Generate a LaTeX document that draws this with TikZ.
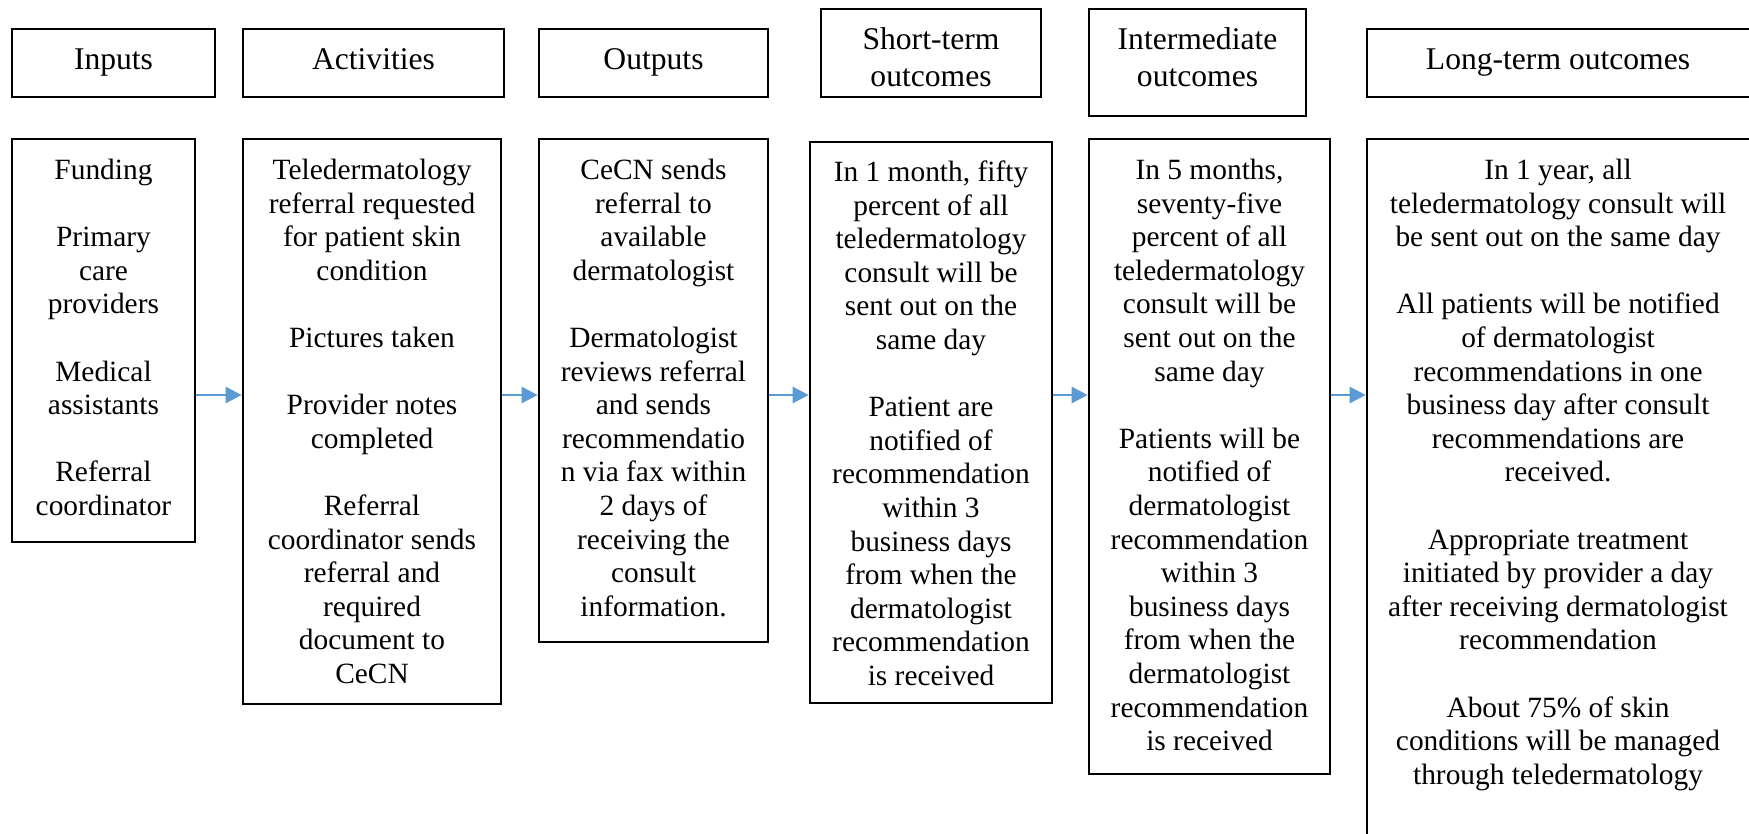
\documentclass[tikz,border=0pt]{standalone}
\usepackage{fontspec}
\setmainfont{Liberation Serif}
\usetikzlibrary{arrows.meta,fit}
\definecolor{arrowblue}{HTML}{5B9BD5}
\begin{document}
\begin{tikzpicture}[x=0.5pt,y=-0.5pt,
  hdrbox/.style={draw=black, line width=0.75pt, rectangle, inner sep=0pt},
  cntbox/.style={draw=black, line width=1.35pt, rectangle, inner sep=0pt},
  hdrtext/.style={anchor=north, align=center, inner sep=0pt, font=\fontsize{15.8}{18.5}\selectfont},
  cnttext/.style={anchor=north, align=center, inner sep=0pt, font=\fontsize{14.7}{16.8}\selectfont},
  flow/.style={draw=arrowblue, line width=1.4pt, -{Triangle[length=8pt,width=8pt]}}
]
\useasboundingbox (0,0) rectangle (1749,834);
\fill[white] (0,0) rectangle (1749,834);
\clip (0,0) rectangle (1749,834);

% header boxes
\node[hdrbox, fit={(12,29) (215,97)}] (hin) {};
\node[hdrbox, fit={(243,29) (504,97)}] (hact) {};
\node[hdrbox, fit={(539,29) (768,97)}] (hout) {};
\node[hdrbox, fit={(821,9) (1041,97)}] (hst) {};
\node[hdrbox, fit={(1089,9) (1306,116)}] (hint) {};
\node[hdrbox, fit={(1367,29) (1765,97)}] (hlt) {};

\node[hdrtext] (hinT) at (113.5,43) {\strut Inputs};
\node[hdrtext] (hactT) at (373.5,43) {\strut Activities};
\node[hdrtext] (houtT) at (653.5,43) {\strut Outputs};
\node[hdrtext] (hstT) at (931,23) {\strut Short-term\\outcomes};
\node[hdrtext] (hintT) at (1197.5,23) {\strut Intermediate\\outcomes};
\node[hdrtext] (hltT) at (1558,43) {\strut Long-term outcomes};

% content boxes
\node[cntbox, fit={(12,139) (195,542)}] (inputs) {};
\node[cntbox, fit={(243,139) (501,704)}] (activities) {};
\node[cntbox, fit={(539,139) (768,642)}] (outputs) {};
\node[cntbox, fit={(810,142) (1052,703)}] (shortterm) {};
\node[cntbox, fit={(1089,139) (1330,774)}] (interm) {};
\node[cntbox, fit={(1367,139) (1765,860)}] (longterm) {};

\node[cnttext] (inputsT) at (103.5,155.5) {\strut Funding\\[16.8pt]
Primary\\care\\providers\\[16.8pt]
Medical\\assistants\\[16.8pt]
Referral\\coordinator};

\node[cnttext] (activitiesT) at (372,155.5) {\strut Teledermatology\\referral requested\\for patient skin\\condition\\[16.8pt]
Pictures taken\\[16.8pt]
Provider notes\\completed\\[16.8pt]
Referral\\coordinator sends\\referral and\\required\\document to\\CeCN};

\node[cnttext] (outputsT) at (653.5,155.5) {\strut CeCN sends\\referral to\\available\\dermatologist\\[16.8pt]
Dermatologist\\reviews referral\\and sends\\recommendatio\\n via fax within\\2 days of\\receiving the\\consult\\information.};

\node[cnttext] (shorttermT) at (931,157.5) {\strut In 1 month, fifty\\percent of all\\teledermatology\\consult will be\\sent out on the\\same day\\[16.8pt]
Patient are\\notified of\\recommendation\\within 3\\business days\\from when the\\dermatologist\\recommendation\\is received};

\node[cnttext] (intermT) at (1209.5,155.5) {\strut In 5 months,\\seventy-five\\percent of all\\teledermatology\\consult will be\\sent out on the\\same day\\[16.8pt]
Patients will be\\notified of\\dermatologist\\recommendation\\within 3\\business days\\from when the\\dermatologist\\recommendation\\is received};

\node[cnttext] (longtermT) at (1558,155.5) {\strut In 1 year, all\\teledermatology consult will\\be sent out on the same day\\[16.8pt]
All patients will be notified\\of dermatologist\\recommendations in one\\business day after consult\\recommendations are\\received.\\[16.8pt]
Appropriate treatment\\initiated by provider a day\\after receiving dermatologist\\recommendation\\[16.8pt]
About 75\% of skin\\conditions will be managed\\through teledermatology};

% arrows
\coordinate (ay) at (0,395);
\draw[flow] (inputs.east |- ay) -- (activities.west |- ay);
\draw[flow] (activities.east |- ay) -- (outputs.west |- ay);
\draw[flow] (outputs.east |- ay) -- (shortterm.west |- ay);
\draw[flow] (shortterm.east |- ay) -- (interm.west |- ay);
\draw[flow] (interm.east |- ay) -- (longterm.west |- ay);
\end{tikzpicture}
\end{document}
